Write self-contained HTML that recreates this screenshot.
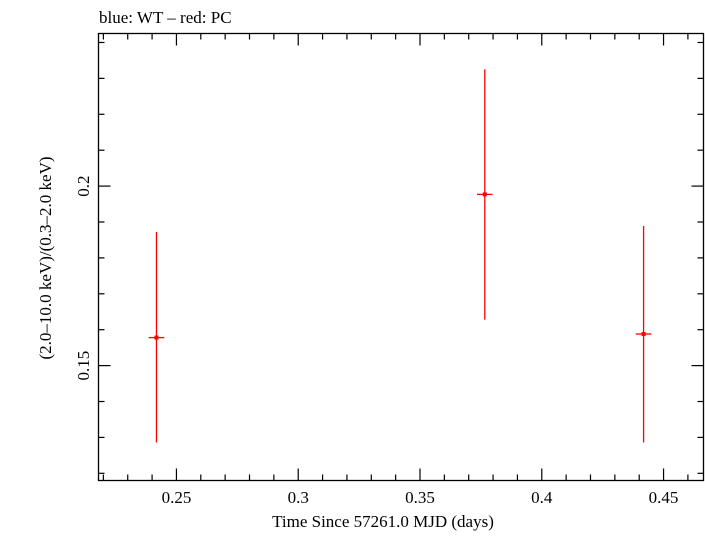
<!DOCTYPE html>
<html><head><meta charset="utf-8"><style>
body{margin:0;background:#fff}
text{font-family:"Liberation Serif",serif;fill:#000}
</style></head><body>
<svg id="chart" width="705" height="532" xmlns="http://www.w3.org/2000/svg">
<text x="99" y="23" font-size="17">blue: WT – red: PC</text>
<rect x="98.5" y="33.5" width="605" height="447" fill="none" stroke="#000" stroke-width="1.3"/>
<g id="axes"></g>
<g id="marks"></g>
<text x="383" y="527" font-size="17" text-anchor="middle">Time Since 57261.0 MJD (days)</text>
<text transform="translate(51,258) rotate(-90)" font-size="17" text-anchor="middle">(2.0–10.0 keV)/(0.3–2.0 keV)</text>
</svg>
<script>
const times=[0.2418,0.3766,0.4418];
const timeErr=[0.0032,0.0032,0.0032];
const ratios=[0.1578,0.1977,0.1588];
const errLo=[0.1286,0.1628,0.1286];
const errHi=[0.1872,0.2325,0.1889];
const xTicks=[0.25,0.3,0.35,0.4,0.45];
const xTickLabels=["0.25","0.3","0.35","0.4","0.45"];
const yTicks=[0.15,0.2];
const yTickLabels=["0.15","0.2"];
const X0=98.5,X1=703.5,Y0=480.5,Y1=33.5;
const xmin=0.218,xmax=0.4664,ymin=0.118,ymax=0.2425;
const sx=v=>X0+(v-xmin)/(xmax-xmin)*(X1-X0);
const sy=v=>Y0-(v-ymin)/(ymax-ymin)*(Y0-Y1);
const NS="http://www.w3.org/2000/svg";
function mk(tag,attrs,parent){const e=document.createElementNS(NS,tag);for(const k in attrs)e.setAttribute(k,attrs[k]);parent.appendChild(e);return e;}
const ax=document.getElementById('axes'),mg=document.getElementById('marks');
for(let v=0.22;v<=0.4665;v+=0.01){const x=sx(v);const major=xTicks.some(t=>Math.abs(t-v)<1e-6);const L=major?12:6;
 const t1=mk('line',{x1:x,x2:x,y1:Y0,y2:Y0-L,stroke:'#000','stroke-width':1.2},ax);
 
 
 const t2=mk('line',{x1:x,x2:x,y1:Y1,y2:Y1+L,stroke:'#000','stroke-width':1.2},ax);
 
 }
xTicks.forEach((v,i)=>{const t=mk('text',{x:sx(v),y:503,'font-size':17,'text-anchor':'middle'},ax);t.textContent=xTickLabels[i];
 
 });
for(let v=0.12;v<=0.2425;v+=0.01){const y=sy(v);const major=yTicks.some(t=>Math.abs(t-v)<1e-6);const L=major?12:6;
 const t1=mk('line',{x1:X0,x2:X0+L,y1:y,y2:y,stroke:'#000','stroke-width':1.2},ax);
 
 
 const t2=mk('line',{x1:X1,x2:X1-L,y1:y,y2:y,stroke:'#000','stroke-width':1.2},ax);
 
 }
yTicks.forEach((v,i)=>{const t=mk('text',{transform:`translate(89,${sy(v)}) rotate(-90)`,'font-size':17,'text-anchor':'middle'},ax);t.textContent=yTickLabels[i];
 
 });
times.forEach((t,i)=>{const g=mk('g',{},mg);
 
 
 mk('line',{x1:sx(t),x2:sx(t),y1:sy(errLo[i]),y2:sy(errHi[i]),stroke:'#f00','stroke-width':1.3},g);
 mk('line',{x1:sx(t-timeErr[i]),x2:sx(t+timeErr[i]),y1:sy(ratios[i]),y2:sy(ratios[i]),stroke:'#f00','stroke-width':1.3},g);
 mk('rect',{x:sx(t)-2,y:sy(ratios[i])-2,width:4,height:4,fill:'#f00'},g);});
</script>
</body></html>
